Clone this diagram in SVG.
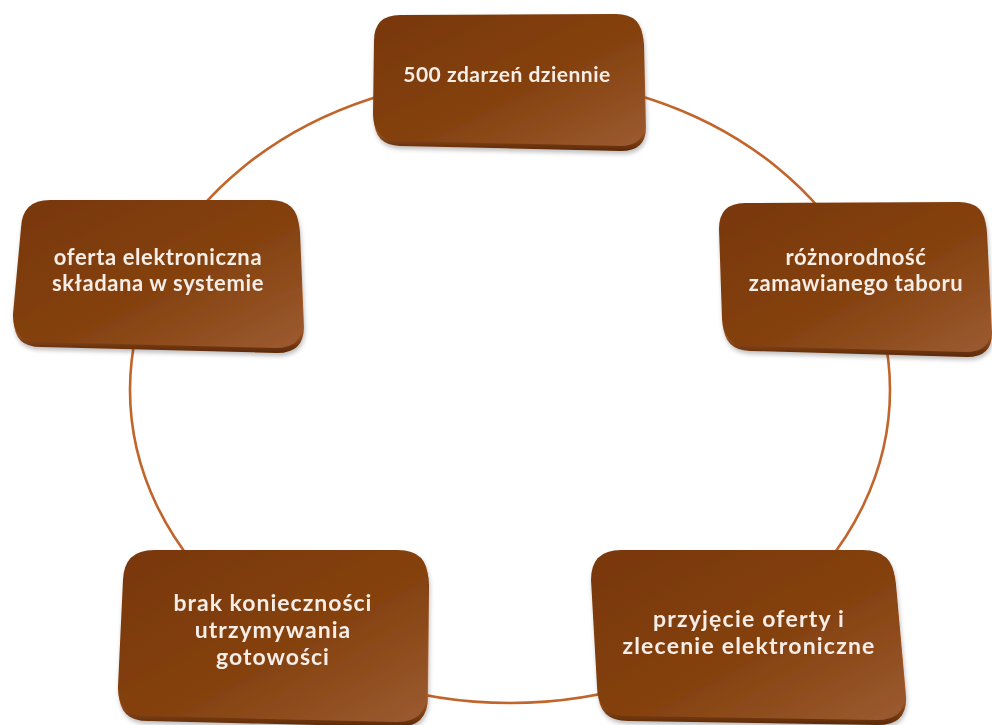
<svg xmlns="http://www.w3.org/2000/svg" width="992" height="725" viewBox="0 0 992 725">
<defs>
<linearGradient id="face" x1="0" y1="0" x2="1" y2="1">
<stop offset="0" stop-color="#793709"/>
<stop offset="0.55" stop-color="#84410f"/>
<stop offset="1" stop-color="#9c5b31"/>
</linearGradient>
<linearGradient id="side" x1="0" y1="0" x2="0" y2="1">
<stop offset="0" stop-color="#6a3008"/>
<stop offset="0.8" stop-color="#b8672f"/>
<stop offset="1" stop-color="#5a2806"/>
</linearGradient>
<filter id="sh" x="-10%" y="-10%" width="120%" height="130%">
<feDropShadow dx="1" dy="3" stdDeviation="2" flood-color="#000" flood-opacity="0.25"/>
</filter>
</defs>
<style>
.ring{fill:none;stroke:#c2652b;stroke-width:2.6}
.side{fill:url(#side)}
.face{fill:url(#face)}
.t{font-family:Lato,"Open Sans","Liberation Sans",sans-serif;font-weight:bold;fill:#f6ede6;text-anchor:middle}
</style>
<g id="connectors">
<ellipse class="ring" cx="510" cy="390" rx="380" ry="313"/>
</g>
<g id="n1" filter="url(#sh)">
<path class="side" transform="translate(1,5)" d="M400,15 L616,14 Q642,14 643,40 L645,120 Q646,146 620,146 L399,141 Q373,140 373,114 L374,41 Q374,15 400,15 Z"/>
<path class="face" d="M400,15 L616,14 Q642,14 643,40 L645,120 Q646,146 620,146 L399,141 Q373,140 373,114 L374,41 Q374,15 400,15 Z"/>
<text class="t" x="507" y="82" font-size="21" letter-spacing="0.5">500 zdarzeń dziennie</text>
</g>
<g id="n2" filter="url(#sh)">
<path class="side" transform="translate(1,5)" d="M745,203 L959,202 Q985,202 986,228 L991,326 Q992,352 966,352 L749,346 Q723,345 722,319 L719,229 Q719,203 745,203 Z"/>
<path class="face" d="M745,203 L959,202 Q985,202 986,228 L991,326 Q992,352 966,352 L749,346 Q723,345 722,319 L719,229 Q719,203 745,203 Z"/>
<text class="t" x="856" y="265" font-size="22" letter-spacing="0.6">różnorodność</text>
<text class="t" x="856" y="291" font-size="22" letter-spacing="0.6">zamawianego taboru</text>
</g>
<g id="n3" filter="url(#sh)">
<path class="side" transform="translate(1,5)" d="M621,550 L863,550 Q893,550 895,580 L905,690 Q907,720 877,720 L627,716 Q597,716 597,686 L591,580 Q591,550 621,550 Z"/>
<path class="face" d="M621,550 L863,550 Q893,550 895,580 L905,690 Q907,720 877,720 L627,716 Q597,716 597,686 L591,580 Q591,550 621,550 Z"/>
<text class="t" x="749" y="627" font-size="23" letter-spacing="1.2">przyjęcie oferty i</text>
<text class="t" x="749" y="654" font-size="23" letter-spacing="1.2">zlecenie elektroniczne</text>
</g>
<g id="n4" filter="url(#sh)">
<path class="side" transform="translate(1,5)" d="M154,550 L398,550 Q428,550 428,580 L427,692 Q427,722 397,722 L147,716 Q117,716 118,686 L123,580 Q124,550 154,550 Z"/>
<path class="face" d="M154,550 L398,550 Q428,550 428,580 L427,692 Q427,722 397,722 L147,716 Q117,716 118,686 L123,580 Q124,550 154,550 Z"/>
<text class="t" x="273" y="611" font-size="23" letter-spacing="1">brak konieczności</text>
<text class="t" x="273" y="638" font-size="23" letter-spacing="1">utrzymywania</text>
<text class="t" x="273" y="665" font-size="23" letter-spacing="1">gotowości</text>
</g>
<g id="n5" filter="url(#sh)">
<path class="side" transform="translate(1,5)" d="M50,200 L270,200 Q298,200 299,228 L303,320 Q304,348 276,348 L40,342 Q12,342 13,314 L21,228 Q22,200 50,200 Z"/>
<path class="face" d="M50,200 L270,200 Q298,200 299,228 L303,320 Q304,348 276,348 L40,342 Q12,342 13,314 L21,228 Q22,200 50,200 Z"/>
<text class="t" x="158" y="265" font-size="22" letter-spacing="0.6">oferta elektroniczna</text>
<text class="t" x="158" y="291" font-size="22" letter-spacing="0.6">składana w systemie</text>
</g>
</svg>
